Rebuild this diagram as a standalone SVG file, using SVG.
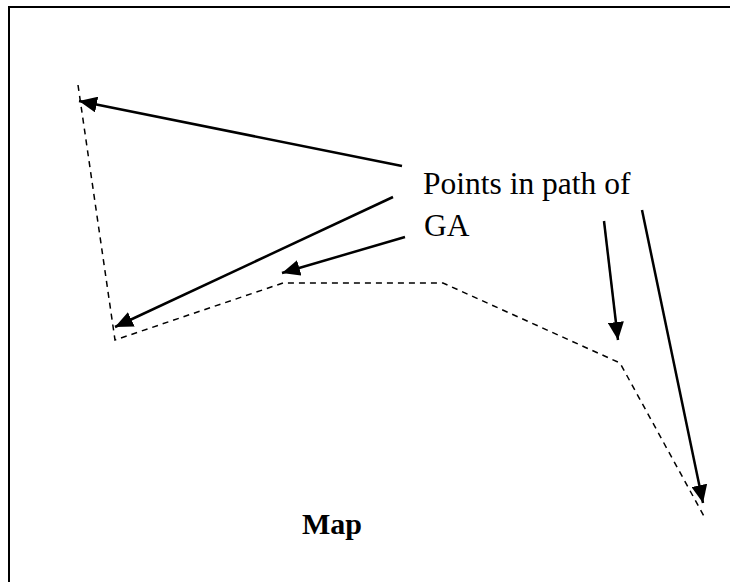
<svg xmlns="http://www.w3.org/2000/svg" width="730" height="582" viewBox="0 0 730 582">
  <style>
    .frame { stroke: #000; stroke-width: 2; fill: none; }
    .route { stroke: #000; stroke-width: 1.5; fill: none; stroke-dasharray: 6 5; }
    .pointer { stroke: #000; stroke-width: 2.5; fill: none; marker-end: url(#head); }
  </style>
  <defs>
    <marker id="head" markerUnits="userSpaceOnUse" markerWidth="20" markerHeight="16" refX="18" refY="8" orient="auto">
      <path d="M0,0 L18,8 L0,16 Z" fill="#000"/>
    </marker>
  </defs>
  <rect width="730" height="582" fill="#fff"/>
  <!-- map frame (open to the right and bottom) -->
  <path class="frame" d="M9,582 L9,7 L730,7"/>
  <!-- GA route -->
  <g id="route">
    <polyline class="route" points="78,85 115,340 283,283 443,283 620,363 705,518"/>
  </g>
  <!-- pointers from the label to the route points -->
  <g id="connectors">
    <line class="pointer" x1="402" y1="166" x2="79" y2="101"/>
    <line class="pointer" x1="393" y1="197" x2="115" y2="327"/>
    <line class="pointer" x1="405" y1="237" x2="282" y2="273"/>
    <line class="pointer" x1="604" y1="221" x2="618" y2="340"/>
    <line class="pointer" x1="642" y1="210" x2="703" y2="503"/>
  </g>
  <g id="label-points" font-family="'Liberation Serif', 'Times New Roman', serif" font-size="31.5" fill="#000">
    <text x="423" y="194">Points in path of</text>
    <text x="424" y="236">GA</text>
  </g>
  <g id="label-map" font-family="'Liberation Serif', 'Times New Roman', serif" font-size="30" font-weight="bold" fill="#000">
    <text x="302" y="534">Map</text>
  </g>
</svg>
